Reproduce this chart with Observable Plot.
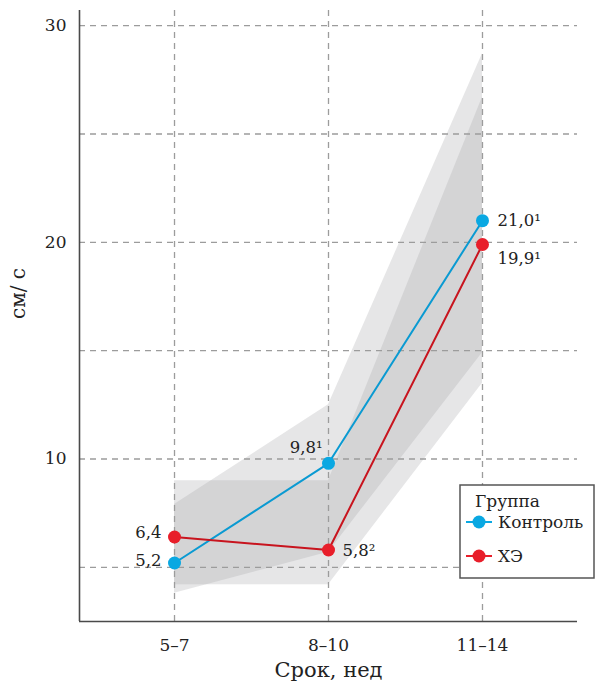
<!DOCTYPE html>
<html><head><meta charset="utf-8">
<script src="https://cdn.jsdelivr.net/npm/d3@7"></script>
<script src="https://cdn.jsdelivr.net/npm/@observablehq/plot@0.6"></script>
<style>body{margin:0;background:#fff} #chart{position:relative;width:595px;height:681px} #chart text{font-family:'DejaVu Serif','Liberation Serif',serif}</style>
</head><body><div id="chart"></div>
<script>
const periods = ["5–7", "8–10", "11–14"];
const groups = ["Контроль", "ХЭ"];
const dotColors = ["#0aa8e2", "#e81e2a"];
const lineColors = ["#0a9ad2", "#c8141e"];
const controlMean = [5.2, 9.8, 21.0];
const cheMean = [6.4, 5.8, 19.9];
const controlLow = [3.8, 5.7, 14.9];
const controlHigh = [7.9, 12.5, 28.7];
const cheLow = [4.2, 4.2, 13.5];
const cheHigh = [9.0, 9.0, 26.7];
const controlLabels = ["5,2", "9,8¹", "21,0¹"];
const cheLabels = ["6,4", "5,8²", "19,9¹"];
const gridValues = [5, 10, 15, 20, 25, 30];
const yTicks = [10, 20, 30];

const means = [controlMean, cheMean];
const lows = [controlLow, cheLow];
const highs = [controlHigh, cheHigh];
const labels = [controlLabels, cheLabels];

const rows = [];
groups.forEach((g, k) => periods.forEach((p, i) => rows.push({
  i, period: p, group: g, k, value: means[k][i], low: lows[k][i], high: highs[k][i], label: labels[k][i]
})));

const xMin = -0.617, xMax = 2.617;
const yMin = 2.5, yMax = 30.7;
const font = "'DejaVu Serif', 'Liberation Serif', serif";
const dash = "6,5";
const gridColor = "#9c9c9c";

// label placements [group][index]
const place = [
  [{a: "end", dx: -13, dy: -2}, {a: "end", dx: -6, dy: -16}, {a: "start", dx: 15, dy: 0}],
  [{a: "end", dx: -13, dy: -4}, {a: "start", dx: 14, dy: 1}, {a: "start", dx: 15, dy: 14}]
];

const marks = [
  Plot.areaY(rows, {x: "i", y1: "low", y2: "high", z: "group", fill: "#a5a7aa", fillOpacity: 0.28}),
  Plot.ruleY(gridValues, {stroke: gridColor, strokeDasharray: dash, strokeWidth: 1.3}),
  Plot.ruleX([0, 1, 2], {stroke: gridColor, strokeDasharray: dash, strokeWidth: 1.3}),
  Plot.ruleX([xMin], {stroke: "#4a4a4a", strokeWidth: 1.6}),
  Plot.ruleY([yMin], {stroke: "#4a4a4a", strokeWidth: 1.6}),
  Plot.axisX({ticks: [0, 1, 2], tickFormat: i => periods[i], tickSize: 0, tickPadding: 17, fontSize: 17, fontFamily: font, label: null, fill: "#222"}),
  Plot.axisY({ticks: yTicks, tickSize: 0, tickPadding: 13, fontSize: 17, fontFamily: font, label: null, fill: "#222"}),
  Plot.text(["Срок, нед"], {text: d => d, frameAnchor: "bottom", dy: 55, fontSize: 21, fontFamily: font, fill: "#222"}),
  Plot.text(["см/ с"], {text: d => d, frameAnchor: "left", dx: -61, dy: 3, rotate: -90, fontSize: 20, fontFamily: font, fill: "#222"})
];

groups.forEach((g, k) => {
  const data = rows.filter(d => d.k === k);
  marks.push(Plot.line(data, {x: "i", y: "value", stroke: lineColors[k], strokeWidth: 2}));
  marks.push(Plot.dot(data, {x: "i", y: "value", r: 6.5, fill: dotColors[k]}));
  data.forEach((d, i) => {
    const p = place[k][i];
    marks.push(Plot.text([d], {x: "i", y: "value", text: "label", textAnchor: p.a, dx: p.dx, dy: p.dy, fontSize: 16.5, fontFamily: font, fill: "#222"}));
  });
});

const svg = Plot.plot({
  width: 595, height: 681,
  marginLeft: 79, marginRight: 18, marginTop: 10, marginBottom: 60,
  x: {type: "linear", domain: [xMin, xMax]},
  y: {domain: [yMin, yMax]},
  style: {fontFamily: font, background: "white", color: "#222"},
  marks
});

// legend inside the plot area
const lg = d3.select(svg).append("g").attr("font-family", font).attr("fill", "#222").attr("text-anchor", "start");
lg.append("rect").attr("x", 460).attr("y", 485).attr("width", 134).attr("height", 93)
  .attr("fill", "white").attr("stroke", "#555").attr("stroke-width", 1.5);
lg.append("text").attr("x", 475).attr("y", 507).attr("font-size", 17).attr("text-anchor", "start").text("Группа");
groups.forEach((g, k) => {
  const y = 522 + k * 34;
  lg.append("line").attr("x1", 466).attr("x2", 492).attr("y1", y).attr("y2", y)
    .attr("stroke", dotColors[k]).attr("stroke-width", 2);
  lg.append("circle").attr("cx", 479).attr("cy", y).attr("r", 6.5).attr("fill", dotColors[k]);
  lg.append("text").attr("x", 498).attr("y", y).attr("dy", "0.35em").attr("font-size", 17).attr("text-anchor", "start").text(g);
});

document.getElementById("chart").appendChild(svg);
</script>
</body></html>
